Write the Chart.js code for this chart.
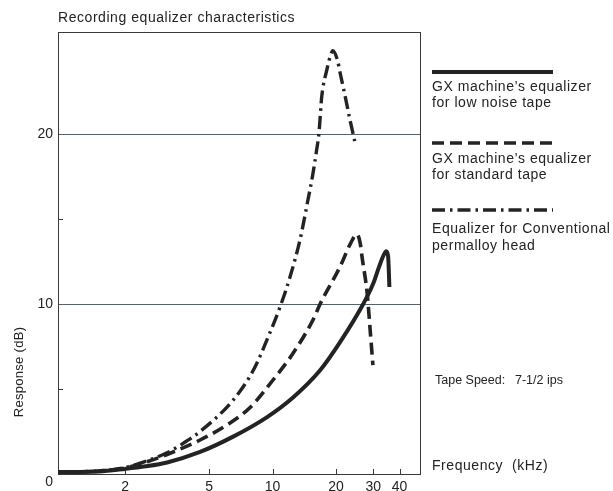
<!DOCTYPE html>
<html>
<head>
<meta charset="utf-8">
<script src="https://cdn.jsdelivr.net/npm/chart.js@4.4.1/dist/chart.umd.min.js"></script>
<style>
  html, body { margin: 0; padding: 0; background: #fff; }
  #wrap { width: 613px; height: 491px; position: relative; }
</style>
</head>
<body>
<div id="wrap"><canvas id="eq"></canvas></div>
<script>
// frequency in kHz, response in dB
const lowNoiseFreq = [0.96, 1.5, 2, 2.5, 3.16, 4.53, 6.5, 9.42, 12.5, 16.8, 21, 26.9, 30, 32, 33.7, 34.6, 35.3, 35.8];
const lowNoiseDb   = [0.12, 0.15, 0.3, 0.45, 0.68, 1.3, 2.2, 3.35, 4.5, 6.1, 7.8, 10.0, 11.2, 12.2, 12.9, 13.1, 12.8, 11.0];

const standardFreq = [0.96, 1.5, 2, 2.5, 3.16, 4.53, 6.1, 7.8, 10, 12.5, 15.6, 16.8, 20.9, 23.5, 25.1, 26.0, 26.6, 28.1, 29.0, 29.9];
const standardDb   = [0.12, 0.18, 0.35, 0.7, 1.15, 2.0, 2.9, 3.9, 5.5, 7.1, 9.1, 10.0, 12.2, 13.6, 14.1, 13.6, 12.7, 10.6, 8.5, 6.4];

const permalloyFreq = [0.96, 1.5, 2, 2.5, 3.16, 3.65, 4.53, 6.5, 8.1, 9.7, 10.9, 12.1, 13.5, 14.7, 15.5, 16.1, 16.6, 17.1, 18.1, 18.8, 19.3, 20.3, 20.9, 22.1, 23.3, 24.6];
const permalloyDb   = [0.12, 0.18, 0.38, 0.75, 1.25, 1.7, 2.5, 4.35, 6.1, 8.3, 9.9, 11.6, 13.8, 16.1, 17.6, 18.9, 20.1, 22.2, 23.8, 24.6, 24.9, 24.35, 23.6, 22.2, 20.8, 19.5];

const xTicks = [2, 5, 10, 20, 30, 40];
const yTicks = [0, 5, 10, 15, 20];
const yLabelled = [10, 20];

const legendText = [
    ['GX machine’s equalizer', 'for low noise tape'],
    ['GX machine’s equalizer', 'for standard tape'],
    ['Equalizer for Conventional', 'permalloy head']
];

const ink = '#232323';
const gridInk = '#4e6474';
const fontFamily = '"Liberation Sans", Arial, sans-serif';

Chart.defaults.font.family = fontFamily;
Chart.defaults.color = ink;

const points = (xs, ys) => xs.map((x, i) => ({ x, y: ys[i] }));

const decorations = {
    id: 'decorations',
    beforeDatasetsDraw(chart) {
        const { ctx, chartArea: a, scales: { x, y } } = chart;
        ctx.save();
        ctx.strokeStyle = '#3a3a3a';
        ctx.lineWidth = 1;
        ctx.strokeRect(a.left + 0.5, a.top + 0.5, a.right - a.left, a.bottom - a.top);
        // short ticks pointing into the plot
        ctx.beginPath();
        xTicks.forEach(v => {
            const px = Math.round(x.getPixelForValue(v)) + 0.5;
            ctx.moveTo(px, a.bottom);
            ctx.lineTo(px, a.bottom - 5);
        });
        yTicks.filter(v => v > 0 && !yLabelled.includes(v)).forEach(v => {
            const py = Math.round(y.getPixelForValue(v)) + 0.5;
            ctx.moveTo(a.left, py);
            ctx.lineTo(a.left + 5, py);
        });
        ctx.stroke();
        ctx.restore();
    },
    afterDraw(chart) {
        const { ctx, chartArea: a, scales: { y } } = chart;
        ctx.save();
        ctx.fillStyle = ink;
        ctx.letterSpacing = '0.55px';
        ctx.font = '14px ' + fontFamily;
        ctx.textBaseline = 'middle';

        // title
        ctx.textAlign = 'left';
        ctx.fillText('Recording equalizer characteristics', a.left, 18);

        // zero label sits a little below the axis
        ctx.letterSpacing = '0px';
        ctx.textAlign = 'right';
        ctx.fillText('0', a.left - 5, y.getPixelForValue(0) + 8);

        // y title
        ctx.save();
        ctx.translate(19, 372);
        ctx.rotate(-Math.PI / 2);
        ctx.textAlign = 'center';
        ctx.font = '13px ' + fontFamily;
        ctx.letterSpacing = '0.3px';
        ctx.fillText('Response (dB)', 0, 0);
        ctx.restore();

        // legend on the right, styled from the datasets
        const lx = a.right + 12;
        const lineY = [72, 143, 210];
        const textY = [[87, 103], [159, 175], [229, 246]];
        chart.data.datasets.forEach((ds, i) => {
            ctx.save();
            ctx.strokeStyle = ds.borderColor;
            ctx.lineWidth = ds.borderWidth;
            ctx.setLineDash(ds.borderDash || []);
            ctx.beginPath();
            ctx.moveTo(lx, lineY[i]);
            ctx.lineTo(lx + 121, lineY[i]);
            ctx.stroke();
            ctx.restore();
            ctx.textAlign = 'left';
            ctx.letterSpacing = '0.55px';
            ctx.fillText(legendText[i][0], lx, textY[i][0]);
            ctx.fillText(legendText[i][1], lx, textY[i][1]);
        });

        ctx.fillText('Frequency  (kHz)', lx, 466);

        ctx.font = '12.5px ' + fontFamily;
        ctx.letterSpacing = '0px';
        ctx.fillText('Tape Speed:', lx + 3, 381);
        ctx.fillText('7-1/2 ips', lx + 83, 381);
        ctx.restore();
    }
};

new Chart(document.getElementById('eq'), {
    type: 'line',
    data: {
        datasets: [
            {
                label: 'low noise tape',
                data: points(lowNoiseFreq, lowNoiseDb),
                borderColor: ink,
                borderWidth: 4,
                borderDash: []
            },
            {
                label: 'standard tape',
                data: points(standardFreq, standardDb),
                borderColor: ink,
                borderWidth: 3.6,
                borderDash: [12, 6]
            },
            {
                label: 'permalloy head',
                data: points(permalloyFreq, permalloyDb),
                borderColor: ink,
                borderWidth: 3.4,
                borderDash: [13, 5, 2.5, 5]
            }
        ]
    },
    options: {
        responsive: true,
        maintainAspectRatio: false,
        animation: false,
        layout: { padding: { top: 32, right: 193, left: 0, bottom: 0 } },
        plugins: {
            legend: { display: false },
            tooltip: { enabled: false }
        },
        elements: {
            point: { radius: 0 },
            line: { cubicInterpolationMode: 'monotone', fill: false }
        },
        scales: {
            x: {
                type: 'logarithmic',
                min: 0.96,
                max: 50,
                afterBuildTicks: s => { s.ticks = xTicks.map(v => ({ value: v })); },
                afterFit: s => { s.height = 17; },
                grid: { display: false, drawTicks: false },
                border: { display: false },
                ticks: {
                    color: ink,
                    font: { size: 14 },
                    padding: 5,
                    autoSkip: false,
                    maxRotation: 0,
                    callback: v => String(v)
                }
            },
            y: {
                min: 0,
                max: 26,
                afterBuildTicks: s => { s.ticks = yTicks.map(v => ({ value: v })); },
                afterFit: s => { s.width = 58; },
                grid: {
                    drawTicks: false,
                    color: c => yLabelled.includes(c.tick.value) ? gridInk : 'rgba(0,0,0,0)'
                },
                border: { display: false },
                ticks: {
                    color: ink,
                    font: { size: 14 },
                    padding: 5,
                    callback: v => yLabelled.includes(v) ? String(v) : ''
                }
            }
        }
    },
    plugins: [decorations]
});
</script>
</body>
</html>
